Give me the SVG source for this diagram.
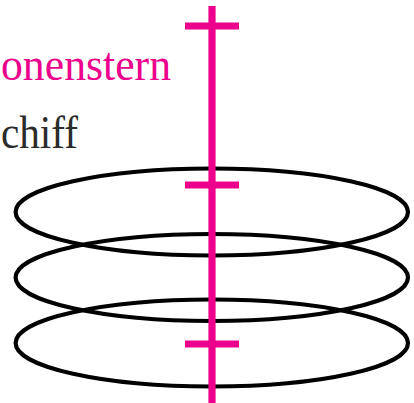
<svg xmlns="http://www.w3.org/2000/svg" width="414" height="403" viewBox="0 0 414 403">
<style>
.orbit{fill:none;stroke:#000;stroke-width:4.2}
.axis{stroke:#EC008C;stroke-width:7.2;fill:none}
.lbl{font-family:"Liberation Serif","DejaVu Serif",serif;font-size:46px}
</style>
<rect width="414" height="403" fill="#fff"/>
<g id="orbits">
<ellipse class="orbit" cx="211.8" cy="212" rx="196.2" ry="43.5"/>
<ellipse class="orbit" cx="211.8" cy="277.5" rx="196.2" ry="43.5"/>
<ellipse class="orbit" cx="211.8" cy="343" rx="196.2" ry="43.5"/>
</g>
<g id="axis">
<line class="axis" x1="212" y1="6" x2="212" y2="403"/>
<line class="axis" x1="185" y1="26" x2="239" y2="26"/>
<line class="axis" x1="185" y1="185" x2="239" y2="185"/>
<line class="axis" x1="185" y1="344" x2="239" y2="344"/>
</g>
<g id="labels">
<text class="lbl" x="1" y="80" fill="#EC008C" textLength="170" lengthAdjust="spacingAndGlyphs">onenstern</text>
<text class="lbl" x="1" y="148" fill="#2b2b2b" textLength="77" lengthAdjust="spacingAndGlyphs">chiff</text>
</g>
</svg>
